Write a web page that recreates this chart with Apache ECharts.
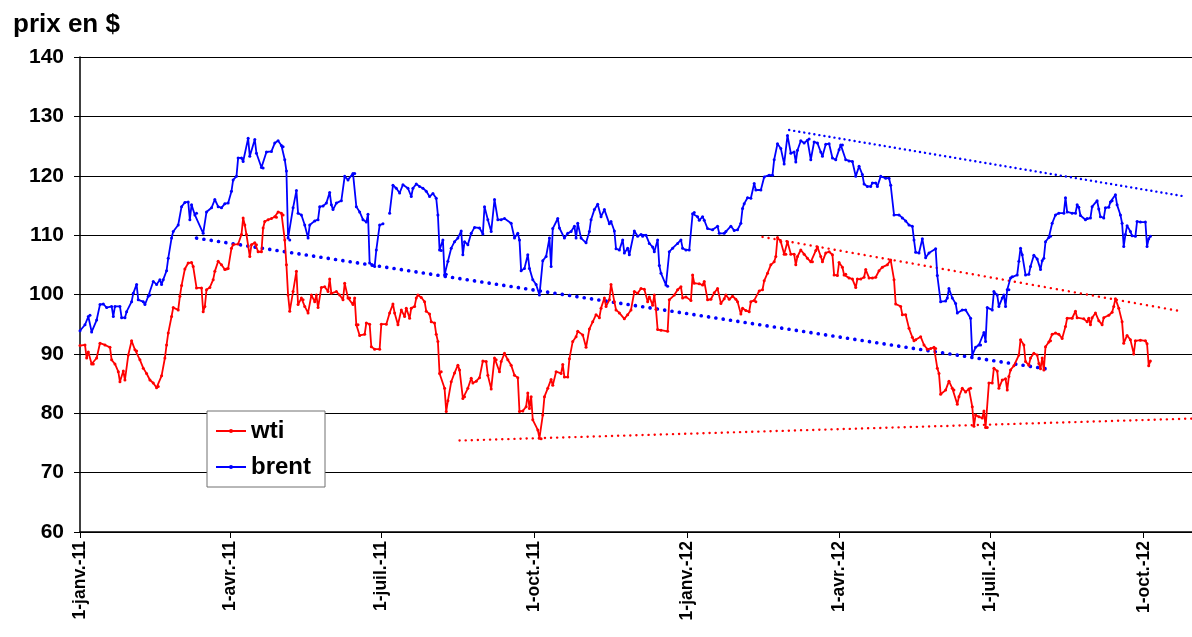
<!DOCTYPE html>
<html>
<head>
<meta charset="utf-8">
<title>prix wti / brent</title>
<script src="https://cdn.jsdelivr.net/npm/echarts@6/dist/echarts.min.js"></script>
<style>
  html, body { margin: 0; padding: 0; background: #fff; }
  #chart { width: 1192px; height: 637px; }
</style>
</head>
<body>
<div id="chart"></div>
<script>
// jours depuis le 1-janv.-11
const tickDays = [0, 90, 181, 273, 365, 456, 547, 639]
const tickLabels = ['1-janv.-11', '1-avr.-11', '1-juil.-11', '1-oct.-11', '1-janv.-12', '1-avr.-12', '1-juil.-12', '1-oct.-12']

// wti
const wtiDays = [
  0, 3, 4, 5, 7, 8, 10, 12, 15, 18, 19, 21, 23, 24, 26, 27, 29, 31, 33, 34, 36, 38, 40, 42, 44, 46, 47, 49, 51, 52,
  53, 55, 56, 59, 60, 61, 63, 65, 67, 68, 70, 73, 74, 75, 76, 78, 80, 81, 83, 85, 87, 88, 89, 91, 92, 95, 97, 98, 99, 100,
  102, 103, 105, 106, 107, 109, 110, 111, 113, 115, 117, 118, 119, 121, 122, 123, 124, 125, 126, 128, 130, 131, 133, 134, 135, 137, 139, 141, 142, 143,
  145, 147, 149, 150, 151, 154, 156, 158, 159, 161, 162, 164, 165, 166, 167, 168, 171, 172, 174, 175, 177, 180, 181, 184, 186, 188, 189, 191, 193, 195,
  196, 198, 199, 201, 202, 203, 205, 207, 208, 210, 211, 213, 214, 215, 216, 217, 219, 220, 221, 223, 225, 227, 228, 230, 231, 233, 235, 236, 238, 240,
  242, 244, 245, 247, 249, 250, 252, 253, 255, 257, 259, 261, 263, 264, 266, 268, 269, 270, 271, 272, 275, 276, 277, 278, 279, 281, 283, 284, 286, 289,
  290, 291, 293, 294, 296, 298, 299, 302, 304, 306, 308, 310, 312, 313, 315, 316, 318, 319, 321, 322, 324, 327, 329, 331, 333, 335, 337, 339, 341, 342,
  344, 345, 346, 347, 349, 353, 354, 357, 359, 361, 362, 364, 367, 368, 369, 372, 374, 375, 377, 379, 381, 383, 385, 387, 388, 390, 392, 394, 395, 397,
  398, 400, 402, 403, 405, 406, 408, 410, 411, 413, 415, 417, 418, 419, 421, 423, 424, 425, 427, 429, 430, 431, 433, 435, 437, 439, 440, 442, 443, 445,
  446, 448, 450, 452, 453, 455, 456, 458, 459, 460, 462, 464, 466, 467, 469, 471, 472, 474, 476, 478, 480, 482, 485, 487, 489, 490, 493, 494, 496, 498,
  500, 501, 502, 505, 507, 509, 511, 513, 514, 515, 516, 517, 520, 522, 524, 525, 527, 528, 530, 532, 534, 535, 536, 537, 538, 540, 542, 543, 544, 545,
  546, 548, 549, 551, 552, 554, 556, 557, 558, 559, 561, 564, 565, 567, 568, 570, 571, 573, 575, 576, 577, 578, 579, 580, 582, 583, 584, 586, 588, 590,
  592, 593, 596, 598, 599, 603, 605, 606, 607, 608, 610, 612, 614, 615, 618, 620, 621, 622, 624, 626, 627, 629, 631, 633, 634, 637, 640, 641, 642, 643
]
const wtiPrices = [
  91.4, 91.5, 89.3, 90.3, 88.3, 88.3, 89.3, 91.8, 91.5, 91.1, 89.0, 88.3, 87.0, 85.3, 87.1, 85.6, 89.8, 92.2, 90.7, 90.5, 89.0, 87.6, 86.7, 85.6, 85.1, 84.3, 84.5, 86.3, 89.3, 91.5,
  93.5, 96.3, 97.8, 97.4, 99.7, 101.5, 104.3, 105.3, 105.4, 104.7, 101.1, 101.1, 97.1, 98.0, 100.8, 101.2, 102.5, 103.9, 105.6, 105.0, 104.2, 104.3, 104.4, 107.8, 108.4, 108.5, 110.1, 112.9, 111.7, 110.1,
  106.4, 108.4, 108.7, 108.4, 107.2, 107.2, 111.2, 112.3, 112.6, 112.8, 113.1, 113.0, 113.9, 113.7, 113.4, 109.2, 105.0, 99.9, 97.2, 100.5, 103.9, 98.3, 99.4, 99.1, 98.0, 96.9, 99.9, 98.8, 99.9, 97.8,
  101.2, 101.3, 100.5, 102.6, 100.2, 100.5, 99.9, 99.1, 101.9, 99.4, 99.4, 98.3, 99.4, 94.9, 94.9, 93.1, 93.3, 95.2, 95.0, 91.2, 90.8, 90.8, 95.0, 95.0, 96.9, 98.4, 96.9, 94.9, 97.4, 96.3,
  97.7, 96.0, 97.7, 98.0, 99.4, 99.9, 99.5, 98.8, 97.2, 96.7, 95.4, 95.2, 93.3, 92.1, 86.7, 87.0, 84.2, 80.3, 82.1, 85.3, 86.8, 88.1, 87.3, 82.5, 82.8, 84.2, 85.9, 85.1, 85.4, 86.0,
  88.8, 88.7, 86.4, 84.1, 89.3, 89.0, 87.0, 88.7, 90.1, 89.0, 88.1, 86.4, 86.0, 80.3, 80.4, 81.1, 83.4, 80.8, 82.8, 78.9, 77.2, 75.8, 75.7, 79.7, 82.8, 84.2, 85.7, 84.7, 87.0, 86.7,
  88.2, 86.1, 86.1, 89.2, 92.1, 92.9, 93.8, 93.2, 91.1, 94.2, 95.4, 96.6, 96.1, 97.7, 99.4, 98.0, 99.1, 101.7, 98.8, 97.4, 96.9, 95.9, 96.6, 97.4, 100.5, 100.2, 101.0, 100.9, 98.8, 99.6,
  98.2, 99.9, 97.5, 94.1, 94.0, 93.8, 99.1, 99.9, 100.8, 101.3, 99.4, 99.6, 99.0, 103.3, 101.9, 101.8, 101.6, 102.2, 99.1, 99.2, 100.3, 101.0, 98.5, 99.3, 99.9, 99.2, 99.7, 99.2, 98.8, 96.7,
  97.7, 97.3, 97.1, 98.8, 99.0, 98.8, 100.6, 100.8, 102.3, 103.6, 105.0, 105.5, 106.4, 109.6, 108.9, 106.8, 106.8, 108.9, 106.8, 106.8, 105.0, 106.4, 107.5, 106.8, 106.1, 105.5, 105.5, 107.4, 108.0, 106.4,
  105.5, 107.0, 107.2, 106.7, 103.3, 103.2, 105.4, 104.6, 103.3, 103.4, 102.8, 102.6, 101.2, 102.6, 102.6, 102.9, 104.2, 102.8, 102.8, 102.9, 104.0, 104.6, 105.0, 105.8, 102.5, 98.4, 98.0, 96.6, 96.6, 94.3,
  92.8, 92.2, 92.4, 92.9, 91.5, 90.8, 90.9, 91.1, 90.9, 87.6, 86.7, 83.2, 83.9, 85.4, 84.2, 83.9, 81.5, 82.8, 84.2, 83.6, 84.1, 84.2, 81.1, 77.8, 79.7, 79.4, 79.2, 80.4, 77.6, 77.6,
  85.1, 85.1, 87.6, 87.1, 84.2, 85.6, 85.8, 83.9, 86.2, 87.3, 88.0, 89.8, 92.4, 91.5, 88.7, 88.1, 89.3, 90.1, 89.8, 88.4, 87.5, 89.3, 87.3, 91.2, 92.0, 92.2, 93.3, 93.5, 93.3, 92.6,
  94.6, 96.0, 96.0, 97.2, 96.1, 95.9, 95.4, 96.0, 94.9, 96.1, 96.9, 95.6, 94.9, 96.1, 96.5, 97.0, 98.0, 99.3, 97.7, 95.4, 91.8, 93.1, 92.4, 90.0, 92.2, 92.3, 92.2, 91.7, 88.0, 88.8
]

// brent (null = trou dans la série)
const brentDays = [
  0, 3, 5, 6, 7, 10, 12, 14, 16, 19, 20, 21, 24, 25, 27, 28, 31, 32, 34, 35, 38, 39, 41, 42, 44, 46, 48, 49, 50, 52,
  53, 55, 56, 59, 61, 63, 65, 66, 67, 69, 70, 74, 76, 79, 81, 83, 85, 87, 89, 91, 92, 94, 95, 97, 98, 101, 102, 105, 106, 109,
  110, 112, 115, 117, 119, 121, 122, 123, 124, 125, 126, 128, 130, 131, 133, 135, 137, 138, 141, 143, 144, 146, 148, 150, 151, 152, 154, 157, 159, 161,
  164, 165, 166, 168, 170, 172, 173, 174, 177, 178, 180, 182, 184, 186, 188, 190, 192, 194, 197, 199, 200, 202, 204, 206, 208, 210, 212, 214, 215, 216,
  217, 218, 219, 220, 221, 223, 225, 227, 229, 230, 231, 233, 235, 237, 240, 242, 243, 245, 247, 249, 251, 253, 255, 259, 261, 263, 264, 265, 267, 269,
  270, 272, 274, 276, 278, 280, 282, 283, 284, 287, 288, 291, 293, 295, 297, 298, 299, 301, 304, 306, 307, 309, 311, 313, 315, 318, 319, 321, 322, 324,
  326, 327, 329, 330, 333, 335, 337, 338, 340, 342, 344, 345, 347, 348, 349, 352, 353, 354, 356, 359, 361, 362, 364, 366, 368, 369, 371, 372, 374, 375,
  377, 380, 383, 384, 387, 388, 391, 393, 395, 397, 398, 399, 401, 403, 405, 406, 409, 411, 414, 416, 417, 419, 421, 423, 425, 427, 429, 430, 431, 433,
  435, 437, 438, 439, 441, 443, 445, 446, 448, 450, 452, 454, 456, 457, 458, 460, 462, 464, 466, 468, 470, 471, 473, 475, 476, 478, 479, 481, 484, 486,
  487, 489, 492, 494, 496, 498, 500, 501, 502, 504, 506, 508, 510, 514, 515, 517, 520, 521, 522, 524, 526, 527, 530, 532, 535, 536, 538, 540, 541, 543,
  544, 545, 548, 549, 551, 552, 554, 555, 556, 557, 558, 559, 560, 563, 564, 565, 566, 568, 570, 571, 573, 575, 577, 578, 579, 580, 582, 583, 584, 586,
  588, 591, 592, 593, 596, 598, 599, 600, 601, 604, 605, 607, 608, 611, 612, 613, 615, 616, 618, 619, 620, 622, 623, 625, 626, 627, 628, 629, 631, 632,
  634, 635, 637, 640, 641, 642, 643
]
const brentPrices = [
  93.9, 94.9, 96.3, 96.5, 93.7, 95.7, 98.3, 98.4, 97.8, 98.0, 96.3, 98.0, 98.0, 96.1, 96.1, 97.1, 98.8, 100.2, 101.7, 99.1, 98.8, 98.3, 99.7, 99.9, 102.2, 101.7, 102.5, 101.7, 102.5, 104.0,
  106.1, 109.5, 110.6, 111.7, 114.8, 115.5, 115.6, 112.6, 115.1, 113.4, 113.7, 110.3, 113.9, 114.6, 116.0, 114.8, 114.6, 115.3, 115.4, 117.4, 119.3, 119.9, 123.0, 123.0, 122.4, 126.3, 123.3, 126.1, 123.8, 121.4,
  121.3, 124.0, 124.1, 125.5, 125.9, 125.1, 124.9, 122.7, 120.8, 109.5, 109.2, 114.6, 117.5, 113.7, 113.4, 111.7, 109.5, 111.7, 112.4, 112.6, 114.8, 114.9, 115.4, 117.2, 115.1, 114.3, 115.4, 115.8, 119.9, 119.3,
  120.4, 120.4, 114.8, 113.9, 112.6, 112.2, 113.5, 105.3, 104.7, 107.5, 111.7, 111.9, null, 113.7, 118.4, 117.9, 117.1, 118.5, 117.9, 116.5, 117.9, 118.6, 118.2, 117.9, 117.4, 116.5, 117.0, 116.2, 113.4, 107.5,
  107.4, 109.2, 103.3, 103.4, 105.6, 107.8, 108.9, 109.5, 110.7, 106.7, 108.9, 108.4, 110.3, 111.3, 111.2, 110.2, 114.8, 112.6, 110.6, 116.0, 112.6, 112.6, 112.8, 112.0, 109.5, 110.3, 109.2, 104.0, 104.4, 106.7,
  104.4, 102.5, 101.7, 99.9, 105.7, 106.4, 109.5, 104.7, 111.1, 112.8, 111.2, 109.5, 110.3, 110.6, 111.5, 109.5, 112.0, 109.5, 108.7, 110.6, 112.6, 114.3, 115.2, 113.1, 114.3, 111.9, 112.3, 110.7, 107.7, 107.5,
  109.2, 107.0, 107.8, 106.7, 110.7, 109.8, 110.1, 109.8, 110.0, 108.6, 108.0, 107.2, 109.2, 104.9, 103.6, 101.6, 101.4, 107.2, 107.8, 108.6, 109.2, 107.8, 107.5, 107.5, 113.6, 113.8, 113.1, 112.5, 113.1, 112.5,
  111.1, 110.9, 111.5, 110.3, 110.3, 110.6, 111.5, 110.8, 110.9, 112.0, 114.5, 115.3, 116.3, 116.2, 118.7, 117.6, 117.6, 119.8, 120.1, 120.1, 122.7, 125.4, 124.6, 122.0, 126.8, 123.8, 124.0, 122.3, 124.3, 125.9,
  125.5, 126.0, 126.2, 122.7, 125.7, 125.5, 124.0, 123.3, 125.3, 125.4, 123.0, 122.7, 124.4, 125.2, 125.2, 122.7, 122.5, 122.4, 119.9, 121.6, 120.2, 118.6, 118.2, 118.2, 118.8, 118.8, 118.2, 119.9, 119.6, 119.6,
  118.4, 113.4, 113.4, 112.9, 112.4, 111.7, 111.5, 109.2, 107.1, 107.0, 109.4, 106.2, 107.0, 107.7, 103.2, 98.8, 98.9, 99.4, 101.0, 99.4, 98.5, 96.9, 97.4, 97.4, 96.0, 89.8, 91.1, 91.5, 91.5, 93.6,
  92.1, 97.8, 97.4, 100.5, 99.9, 98.0, 99.4, 99.9, 98.0, 100.8, 100.8, 102.8, 103.0, 103.3, 105.6, 107.8, 106.7, 103.3, 103.4, 104.7, 106.6, 106.0, 104.2, 105.7, 106.1, 108.9, 109.6, 109.8, 112.0, 113.4,
  113.7, 113.7, 116.3, 113.9, 113.7, 113.7, 115.1, 114.7, 113.3, 112.6, 112.8, 112.9, 114.8, 115.8, 114.4, 113.1, 112.9, 114.6, 114.7, 115.6, 115.8, 116.8, 115.1, 113.4, 112.0, 108.1, 110.1, 111.6, 110.6, 109.9,
  109.8, 112.3, 112.2, 112.2, 108.1, 109.4, 109.8
]

// droites de tendance (pointillés) : [jour début, jour fin] et [prix début, prix fin]
const brentLowDays = [70, 580]
const brentLowPrices = [109.5, 87.5]
const brentHighDays = [426, 662]
const brentHighPrices = [127.7, 116.6]
const wtiHighDays = [410, 661]
const wtiHighPrices = [109.7, 97.2]
const wtiLowDays = [228, 668]
const wtiLowPrices = [75.4, 79.1]

const RED = '#ff0000'
const BLUE = '#0000ff'
const FONT = '"Liberation Sans", Arial, Helvetica, sans-serif'

const pairs = (days, prices) => days.map((d, i) => [d, prices[i]])

function trend(days, prices, color, width, gap) {
  return {
    type: 'line',
    data: pairs(days, prices),
    symbol: 'none',
    silent: true,
    z: 3,
    lineStyle: { color, width, type: [0.1, gap], cap: 'round' }
  }
}

const chart = echarts.init(document.getElementById('chart'))

const option = {
  animation: false,
  backgroundColor: '#fff',
  title: {
    text: 'prix en $',
    left: 8,
    top: 7,
    textStyle: { fontFamily: FONT, fontSize: 26, fontWeight: 'bold', color: '#000' }
  },
  legend: {
    data: ['wti', 'brent'],
    orient: 'vertical',
    left: 207,
    top: 411,
    padding: [6, 14, 6, 8],
    itemGap: 8,
    itemWidth: 30,
    itemHeight: 5,
    backgroundColor: '#fff',
    borderColor: '#707070',
    borderWidth: 1,
    borderRadius: 0,
    textStyle: { fontFamily: FONT, fontSize: 24, fontWeight: 'bold', color: '#000', lineHeight: 28 }
  },
  grid: { left: 80, right: 0, top: 57, bottom: 105, containLabel: false },
  xAxis: {
    type: 'value',
    min: 0,
    max: 668,
    splitLine: { show: false },
    axisLine: { lineStyle: { color: '#000', width: 1.5 } },
    axisTick: { customValues: tickDays, length: 6, lineStyle: { color: '#000', width: 1 } },
    axisLabel: {
      customValues: tickDays,
      rotate: 90,
      margin: 9,
      fontFamily: FONT,
      fontSize: 17.5,
      fontWeight: 'bold',
      color: '#000',
      formatter: v => tickLabels[tickDays.indexOf(v)] || ''
    }
  },
  yAxis: {
    type: 'value',
    min: 60,
    max: 140,
    interval: 10,
    axisLine: { show: true, lineStyle: { color: '#000', width: 1.5 } },
    axisTick: { show: true, length: 6, lineStyle: { color: '#000' } },
    splitLine: { lineStyle: { color: '#000', width: 1 } },
    axisLabel: { margin: 16, fontFamily: FONT, fontSize: 21, fontWeight: 'bold', color: '#000' }
  },
  series: [
    {
      name: 'wti',
      type: 'line',
      data: pairs(wtiDays, wtiPrices),
      color: RED,
      symbol: 'circle',
      symbolSize: 3,
      showAllSymbol: true,
      lineStyle: { width: 1.8, color: RED },
      itemStyle: { color: RED },
      z: 4
    },
    {
      name: 'brent',
      type: 'line',
      data: pairs(brentDays, brentPrices),
      color: BLUE,
      symbol: 'circle',
      symbolSize: 3,
      showAllSymbol: true,
      connectNulls: false,
      lineStyle: { width: 1.8, color: BLUE },
      itemStyle: { color: BLUE },
      z: 4
    },
    trend(brentLowDays, brentLowPrices, BLUE, 3.6, 7.3),
    trend(brentHighDays, brentHighPrices, BLUE, 2.4, 5),
    trend(wtiHighDays, wtiHighPrices, RED, 2.4, 6),
    trend(wtiLowDays, wtiLowPrices, RED, 2.4, 6)
  ]
}

chart.setOption(option)
window.addEventListener('resize', () => chart.resize())
</script>
</body>
</html>
